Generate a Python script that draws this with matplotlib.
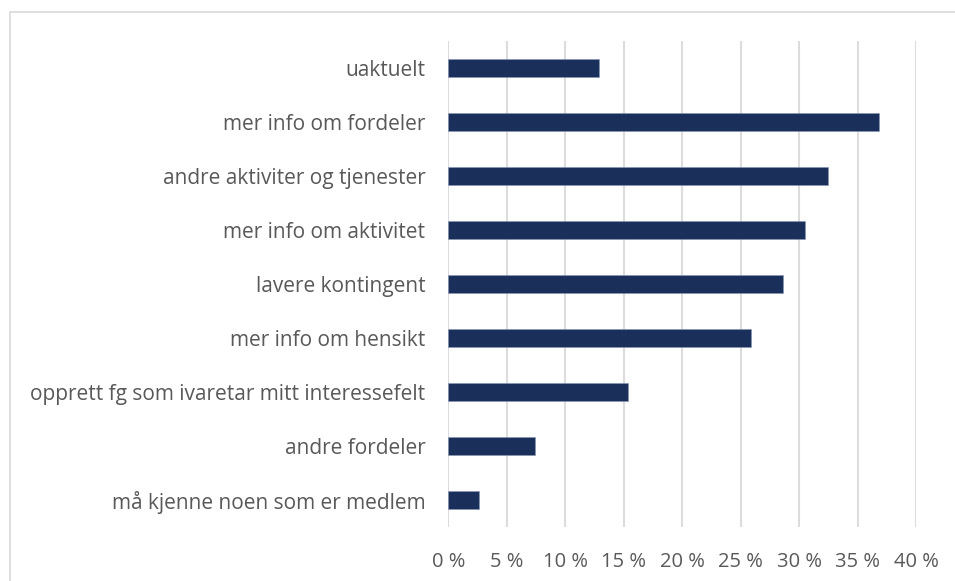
import matplotlib
matplotlib.use('Agg')
import matplotlib.pyplot as plt
import matplotlib.patches as patches
from matplotlib.ticker import FuncFormatter

plt.rcParams['font.family'] = ['Open Sans', 'DejaVu Sans']

categories = ['uaktuelt',
              'mer info om fordeler',
              'andre aktiviter og tjenester',
              'mer info om aktivitet',
              'lavere kontingent',
              'mer info om hensikt',
              'opprett fg som ivaretar mitt interessefelt',
              'andre fordeler',
              'må kjenne noen som er medlem']
values = [12.9, 36.8, 32.5, 30.5, 28.6, 25.9, 15.4, 7.4, 2.6]
x_ticks = [0, 5, 10, 15, 20, 25, 30, 35, 40]

fig = plt.figure(figsize=(9.55, 5.81), dpi=100)
ax = fig.add_axes([0.4694, 0.0929, 0.4898, 0.8365])

ypos = list(range(len(categories)))
ax.barh(ypos, values, height=0.35, color='#1b2f5b', edgecolor='#8896b3', linewidth=0.4, zorder=3)
ax.set_yticks(ypos)
ax.set_yticklabels(categories)
ax.set_ylim(len(categories) - 0.5, -0.5)
ax.set_xlim(0, 40)
ax.set_xticks(x_ticks)
ax.xaxis.set_major_formatter(FuncFormatter(lambda v, p: '%d %%' % v))

ax.grid(True, axis='x', color='#dcdcdc', linewidth=1.5, zorder=0)
for s in ax.spines.values():
    s.set_visible(False)
ax.tick_params(axis='y', length=0, colors='#595959', labelsize=15, pad=16.5)
ax.tick_params(axis='x', length=0, colors='#595959', labelsize=14.5, pad=18)

# outer chart frame (cropped on right and bottom)
fig.patches.append(patches.Rectangle((10 / 955, -0.1), 2.0, 1 - 12 / 581 + 0.1,
                                     transform=fig.transFigure, fill=False,
                                     edgecolor='#d9d9d9', linewidth=1.2))

plt.savefig('out.png', dpi=100)
